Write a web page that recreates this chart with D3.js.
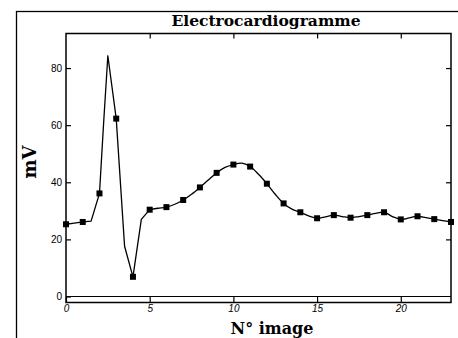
<!DOCTYPE html>
<html>
<head>
<meta charset="utf-8">
<script src="https://cdn.jsdelivr.net/npm/d3@7"></script>
<style>
  body { margin: 0; background: #fff; }
  .tick text { font-family: "Liberation Sans Narrow", "Liberation Sans", sans-serif; font-stretch: condensed; font-size: 10px; fill: #000; }
  .lbl { font-family: "DejaVu Serif", "Liberation Serif", serif; font-weight: bold; fill: #000; }
</style>
</head>
<body>
<div id="chart-area"></div>
<script>
var width = 458,
	height = 338;

// markers (one per image)
var imageNo = [0, 1, 2, 3, 4, 5, 6, 7, 8, 9, 10, 11, 12, 13, 14, 15, 16, 17, 18, 19, 20, 21, 22, 23];
var mvPoints = [25.3, 26.1, 36.1, 62.3, 6.9, 30.4, 31.3, 33.8, 38.2, 43.3, 46.2, 45.5, 39.5, 32.6, 29.5, 27.4, 28.5, 27.6, 28.5, 29.5, 27.0, 28.1, 27.1, 26.1];

// traced curve, read at half steps
var curveT = [0, 0.5, 1, 1.5, 2, 2.25, 2.5, 3, 3.5, 4, 4.5, 5, 5.5, 6, 6.5, 7, 7.5, 8, 8.5, 9, 9.5, 10, 10.5, 11, 11.5, 12, 12.5, 13, 13.5, 14, 14.5, 15, 15.5, 16, 16.5, 17, 17.5, 18, 18.5, 19, 19.5, 20, 20.5, 21, 21.5, 22, 22.5, 23];
var curveMv = [25.3, 25.7, 26.1, 26.4, 36.1, 61, 84.3, 62.3, 17.6, 6.9, 27.0, 30.4, 30.9, 31.3, 32.3, 33.8, 35.8, 38.2, 40.8, 43.3, 45.2, 46.2, 46.7, 45.5, 42.8, 39.5, 35.8, 32.6, 30.6, 29.5, 28.2, 27.4, 27.9, 28.5, 28.0, 27.6, 28.0, 28.5, 29.1, 29.5, 28.0, 27.0, 27.5, 28.1, 27.6, 27.1, 26.6, 26.1];

var xTicks = [0, 5, 10, 15, 20];
var yTicks = [0, 20, 40, 60, 80];

var pLeft = 66, pRight = 451, pTop = 33.5, pBottom = 302.5;

var x = d3.scaleLinear().domain([0, 23]).range([pLeft, pRight]);
var y = d3.scaleLinear().domain([-2.1, 92.1]).range([pBottom, pTop]);

var svg = d3.select('#chart-area')
	.append("svg")
	.attr("width", width)
	.attr("height", height);

// outer frame (runs off the page)
svg.append("rect")
	.attr("x", 16.5).attr("y", 11.5)
	.attr("width", 470).attr("height", 400)
	.attr("fill", "none").attr("stroke", "#000").attr("stroke-width", 1.3);

// plot frame
svg.append("rect")
	.attr("x", pLeft).attr("y", pTop)
	.attr("width", pRight - pLeft).attr("height", pBottom - pTop)
	.attr("fill", "none").attr("stroke", "#000").attr("stroke-width", 1.5);

// zero line
svg.append("line")
	.attr("x1", pLeft).attr("x2", pRight)
	.attr("y1", y(0)).attr("y2", y(0))
	.attr("stroke", "#000").attr("stroke-width", 1.2);

var yAxis = d3.axisLeft(y).tickValues(yTicks).tickSize(-5).tickPadding(4);
svg.append("g")
	.attr("class", "axis y-axis")
	.attr("transform", "translate(" + pLeft + ",0)")
	.call(yAxis)
	.call(function(g) { g.select(".domain").remove(); });

svg.append("g")
	.attr("class", "axis y-axis-r")
	.attr("transform", "translate(" + pRight + ",0)")
	.call(d3.axisRight(y).tickValues(yTicks.slice(1)).tickSize(-5).tickFormat(""))
	.call(function(g) { g.select(".domain").remove(); });

svg.append("g")
	.attr("class", "axis x-axis")
	.attr("transform", "translate(0," + pBottom + ")")
	.call(d3.axisBottom(x).tickValues(xTicks).tickSize(-6).tickPadding(2))
	.call(function(g) { g.select(".domain").remove(); g.selectAll("text").style("font-style", "italic"); });

svg.append("g")
	.attr("class", "axis x-axis-top")
	.attr("transform", "translate(0," + pTop + ")")
	.call(d3.axisTop(x).tickValues(xTicks.slice(1)).tickSize(-5).tickFormat(""))
	.call(function(g) { g.select(".domain").remove(); });

svg.selectAll(".tick line").attr("stroke", "#000").attr("stroke-width", 1.2);

// curve: straight pieces through the spike, smooth afterwards
var idx = curveT.map(function(t, i) { return i; });
var spikeIdx = idx.filter(function(i) { return curveT[i] <= 5; });
var restIdx = idx.filter(function(i) { return curveT[i] >= 5; });

var lineSharp = d3.line()
	.x(function(i) { return x(curveT[i]); })
	.y(function(i) { return y(curveMv[i]); });

var lineSmooth = d3.line()
	.x(function(i) { return x(curveT[i]); })
	.y(function(i) { return y(curveMv[i]); })
	.curve(d3.curveCatmullRom.alpha(0.5));

[[spikeIdx, lineSharp], [restIdx, lineSmooth]].forEach(function(p) {
	svg.append("path")
		.datum(p[0])
		.attr("d", p[1])
		.attr("fill", "none")
		.attr("stroke", "#000")
		.attr("stroke-width", 1.3)
		.attr("stroke-linejoin", "round");
});

svg.selectAll("rect.pt")
	.data(mvPoints)
	.enter()
	.append("rect")
	.attr("class", "pt")
	.attr("x", function(d, i) { return x(imageNo[i]) - 3; })
	.attr("y", function(d) { return y(d) - 3; })
	.attr("width", 6).attr("height", 6)
	.attr("fill", "#000");

// labels
svg.append("text")
	.attr("class", "lbl")
	.attr("x", 266).attr("y", 26)
	.attr("text-anchor", "middle")
	.style("font-size", "15.5px")
	.text("Electrocardiogramme");

svg.append("text")
	.attr("class", "lbl")
	.attr("x", 272).attr("y", 334)
	.attr("text-anchor", "middle")
	.style("font-size", "16px")
	.text("N° image");

svg.append("text")
	.attr("class", "lbl")
	.attr("transform", "translate(36,162) rotate(-90)")
	.attr("text-anchor", "middle")
	.style("font-size", "18px")
	.text("mV");
</script>
</body>
</html>
